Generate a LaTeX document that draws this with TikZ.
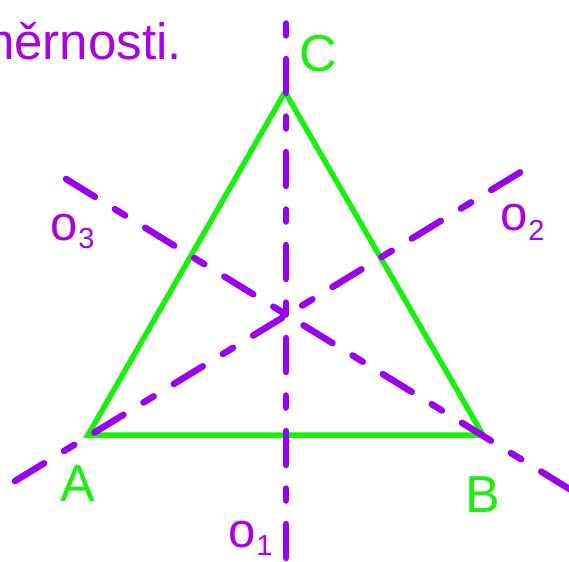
\documentclass[tikz,border=0pt]{standalone}
\usepackage{fontspec}
\setmainfont{Liberation Sans}
\definecolor{axis}{RGB}{152,0,238}
\definecolor{axtext}{RGB}{170,0,228}
\definecolor{tri}{RGB}{25,240,15}
\begin{document}
\begin{tikzpicture}[x=1pt,y=-1pt,
  side/.style={draw=tri,line width=5.5pt,line join=miter},
  axisline/.style={draw=axis,line width=6.5pt,line cap=round,
    dash pattern=on 34pt off 23.5pt on 12pt off 23.5pt},
  vtx/.style={text=tri,font=\fontsize{52}{52}\selectfont,inner sep=0pt,anchor=base west},
  axlab/.style={text=axtext,inner sep=0pt,anchor=base west},
  headtext/.style={text=axtext,font=\fontsize{51}{51}\selectfont,inner sep=0pt,anchor=base east}]
\useasboundingbox (0,0) rectangle (569,561);
\clip (0,0) rectangle (569,561);
% vertices
\coordinate (A) at (88,435);
\coordinate (B) at (483,435);
\coordinate (C) at (285,92);
% axis end points
\coordinate (o1t) at (286,12);
\coordinate (o1b) at (286,575);
\coordinate (o2s) at (15,481);
\coordinate (o2e) at (524,170);
\coordinate (o3s) at (66,179);
\coordinate (o3e) at (610,514);
% triangle
\draw[side] (A) -- (B) -- (C) -- cycle;
% axes
\draw[axisline,dash phase=46pt] (o1t) -- (o1b);
\draw[axisline] (o2s) -- (o2e);
\draw[axisline] (o3s) -- (o3e);
% heading (partially cut)
\node[headtext] (head) at (182,60) {měrnosti.};
% vertex labels
\node[vtx] (lA) at (60,501) {A};
\node[vtx] (lB) at (465,512) {B};
\node[vtx] (lC) at (299,72) {C};
% axis labels
\node[axlab] (l1) at (228,547) {\fontsize{49}{49}\selectfont o\kern1pt\raisebox{-8pt}{\fontsize{29}{29}\selectfont 1}};
\node[axlab] (l2) at (500,230) {\fontsize{49}{49}\selectfont o\kern1pt\raisebox{-10pt}{\fontsize{29}{29}\selectfont 2}};
\node[axlab] (l3) at (50,240) {\fontsize{49}{49}\selectfont o\kern1pt\raisebox{-8pt}{\fontsize{29}{29}\selectfont 3}};
\end{tikzpicture}
\end{document}
